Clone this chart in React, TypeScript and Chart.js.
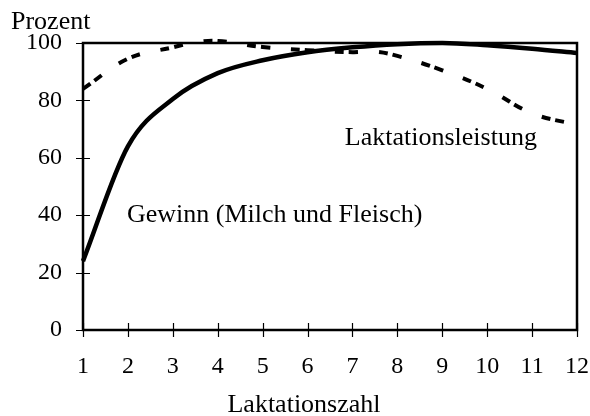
import React, { useEffect, useRef } from "react";
import { Chart, registerables } from "chart.js";

Chart.register(...registerables);

const laktationen = [1, 2, 3, 4, 5, 6, 7, 8, 9, 10, 11, 12];
const gewinn = [24, 64, 80.5, 89.5, 94, 96.8, 98.5, 99.6, 100, 99.2, 98, 96.5];
const laktX = [1, 2, 3, 3.5, 4, 5, 6, 7, 7.5, 8, 9, 10, 11, 12];
const laktationsleistung = [84, 94.5, 98.5, 100.2, 100.7, 98.6, 97.5, 96.8, 97, 95.5, 90.5, 84, 75.5, 71.5];
const yTicks = [0, 20, 40, 60, 80, 100];

const FONT = "'Liberation Serif', 'Times New Roman', serif";

const framePlugin = {
  id: "frame",
  afterDraw(chart: any) {
    const { ctx, chartArea: a, scales } = chart;
    const x = scales.x;
    const y = scales.y;
    ctx.save();
    ctx.strokeStyle = "#000";
    ctx.lineWidth = 2.5;
    ctx.strokeRect(a.left, a.top, a.right - a.left, a.bottom - a.top);
    ctx.lineWidth = 1.2;
    ctx.beginPath();
    for (const v of laktationen) {
      const px = Math.round(x.getPixelForValue(v)) + 0.5;
      ctx.moveTo(px, a.bottom - 7);
      ctx.lineTo(px, a.bottom + 7);
    }
    for (const v of yTicks) {
      const py = Math.round(y.getPixelForValue(v)) + 0.5;
      ctx.moveTo(a.left - 7, py);
      ctx.lineTo(a.left + 7, py);
    }
    ctx.stroke();
    ctx.fillStyle = "#000";
    ctx.font = `26px ${FONT}`;
    ctx.textBaseline = "middle";
    ctx.textAlign = "left";
    ctx.fillText("Prozent", 11, 22);
    ctx.fillText("Laktationsleistung", x.getPixelForValue(6.83), y.getPixelForValue(67));
    ctx.fillText("Gewinn (Milch und Fleisch)", x.getPixelForValue(1.98), y.getPixelForValue(40));
    ctx.textAlign = "center";
    ctx.fillText("Laktationszahl", 304, 405);
    ctx.restore();
  },
};

export default function App() {
  const ref = useRef<HTMLCanvasElement>(null);
  useEffect(() => {
    document.body.style.margin = "0";
    const chart = new Chart(ref.current!, {
      type: "line",
      data: {
        datasets: [
          {
            label: "Gewinn (Milch und Fleisch)",
            data: laktationen.map((v, i) => ({ x: v, y: gewinn[i] })),
            borderColor: "#000",
            borderWidth: 4.5,
            pointRadius: 0,
            cubicInterpolationMode: "monotone",
            fill: false,
            clip: 6,
          },
          {
            label: "Laktationsleistung",
            data: laktX.map((v, i) => ({ x: v, y: laktationsleistung[i] })),
            borderColor: "#000",
            borderWidth: 4,
            borderDash: [9, 5, 9, 21],
            pointRadius: 0,
            tension: 0.4,
            fill: false,
            clip: 6,
          },
        ],
      },
      options: {
        animation: false,
        responsive: false,
        layout: { padding: { left: 0, right: 13, top: 43, bottom: 0 } },
        plugins: { legend: { display: false }, tooltip: { enabled: false } },
        scales: {
          x: {
            type: "linear",
            min: 1,
            max: 12,
            afterFit: (s: any) => {
              s.height = 86;
              s.paddingLeft = 0;
              s.paddingRight = 0;
            },
            afterBuildTicks: (s: any) => {
              s.ticks = laktationen.map((v) => ({ value: v }));
            },
            grid: { display: false },
            border: { display: false },
            ticks: {
              color: "#000",
              font: { family: FONT, size: 24 },
              padding: 14,
              maxRotation: 0,
              autoSkip: false,
            },
          },
          y: {
            min: 0,
            max: 100,
            afterFit: (s: any) => {
              s.width = 83;
              s.paddingTop = 0;
              s.paddingBottom = 0;
            },
            afterBuildTicks: (s: any) => {
              s.ticks = yTicks.map((v) => ({ value: v }));
            },
            grid: { display: false },
            border: { display: false },
            ticks: {
              color: "#000",
              font: { family: FONT, size: 24 },
              padding: 13,
            },
          },
        },
      },
      plugins: [framePlugin],
    } as any);
    return () => chart.destroy();
  }, []);
  return (
    <div style={{ width: 590, height: 416, background: "#fff" }}>
      <canvas ref={ref} width={590} height={416} />
    </div>
  );
}
